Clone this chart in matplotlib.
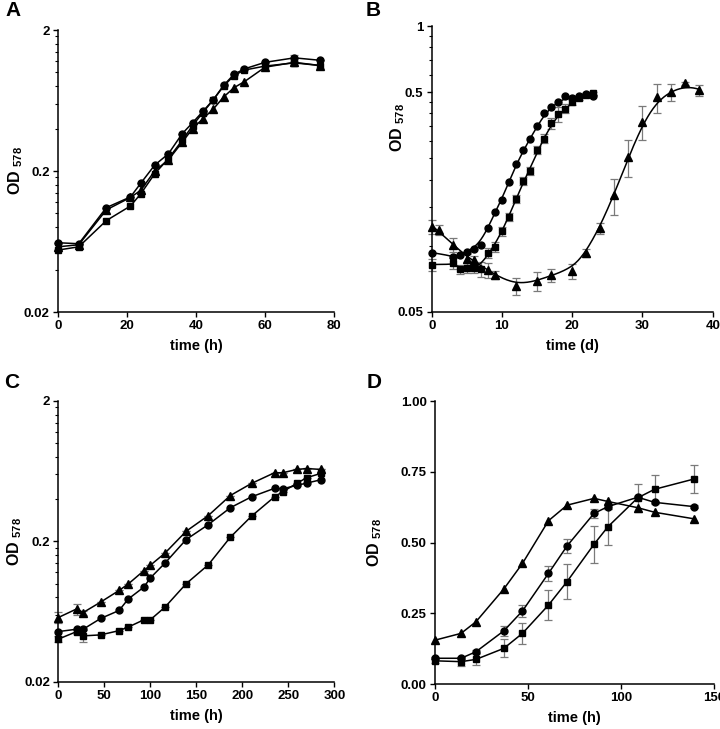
import numpy as np
import matplotlib
matplotlib.use("Agg")
import matplotlib.pyplot as plt
from matplotlib.ticker import FixedLocator, NullFormatter, FixedFormatter

plt.rcParams["font.family"] = ["Liberation Sans", "DejaVu Sans"]
plt.rcParams["font.weight"] = "bold"
plt.rcParams["mathtext.fontset"] = "custom"
plt.rcParams["mathtext.bf"] = "Liberation Sans:bold"
plt.rcParams["mathtext.rm"] = "Liberation Sans:bold"

# --- panel A: OD578 vs time (h), log axis ------------------------------------
A_T = [0, 6, 14, 21, 24, 28, 32, 36, 39, 42, 45, 48, 51, 54, 60, 68.5, 76]
A_CIRC = [0.062, 0.061, 0.110, 0.131, 0.164, 0.220, 0.265, 0.368, 0.440, 0.530,
          0.640, 0.810, 0.970, 1.060, 1.180, 1.270, 1.220]
A_SQ = [0.055, 0.058, 0.089, 0.113, 0.138, 0.191, 0.245, 0.330, 0.420, 0.520,
        0.640, 0.800, 0.950, 1.040, 1.110, 1.170, 1.120]
A_TRI = [0.058, 0.060, 0.106, 0.130, 0.146, 0.200, 0.240, 0.320, 0.400, 0.470,
         0.550, 0.670, 0.780, 0.860, 1.090, 1.180, 1.120]

# --- panel B: OD578 vs time (d), log axis, smooth fitted curves --------------
B_CIRC_T = [0, 3, 4, 5, 6, 7, 8, 9, 10, 11, 12, 13, 14, 15, 16, 17, 18, 19,
            20, 21, 22, 23]
B_CIRC = [0.093, 0.089, 0.091, 0.094, 0.097, 0.101, 0.120, 0.143, 0.161, 0.195,
          0.235, 0.272, 0.305, 0.350, 0.400, 0.430, 0.449, 0.480, 0.470, 0.480,
          0.490, 0.480]
B_SQ_T = [0, 3, 4, 5, 6, 7, 8, 9, 10, 11, 12, 13, 14, 15, 16, 17, 18, 19, 20,
          21, 22, 23]
B_SQ = [0.082, 0.083, 0.078, 0.079, 0.079, 0.078, 0.093, 0.099, 0.116, 0.135,
        0.163, 0.197, 0.219, 0.272, 0.307, 0.360, 0.396, 0.420, 0.450, 0.470,
        0.485, 0.495]
B_SQ_ERR = [0.005, 0.005, 0.004, 0.004, 0.004, 0.006, 0.005, 0.005, 0.005,
            0.006, 0.007, 0.008, 0.010, 0.012, 0.015, 0.020, 0.030, 0.020,
            0.015, 0.010, 0.008, 0.008]
B_TRI_T = [0, 1, 3, 5, 6, 8, 9, 12, 15, 17, 20, 22, 24, 26, 28, 30, 32, 34, 36, 38]
B_TRI = [0.122, 0.118, 0.101, 0.087, 0.086, 0.0774, 0.0735, 0.0655, 0.069,
         0.0735, 0.0766, 0.093, 0.120, 0.170, 0.254, 0.367, 0.473, 0.502,
         0.548, 0.510]
B_TRI_ERR = [0.009, 0.006, 0.007, 0.005, 0.004, 0.006, 0.003, 0.006, 0.007,
             0.005, 0.006, 0.004, 0.007, 0.032, 0.048, 0.065, 0.070, 0.045,
             0.010, 0.030]

# --- panel C: OD578 vs time (h), log axis ------------------------------------
C_T = [0, 20, 27, 46, 66, 76, 93, 100, 116, 139, 163, 187, 210, 235, 244, 259,
       270, 286]
C_TRI = [0.0573, 0.066, 0.0622, 0.0738, 0.0893, 0.0993, 0.1236, 0.135, 0.165,
         0.236, 0.305, 0.424, 0.517, 0.616, 0.616, 0.650, 0.660, 0.650]
C_TRI_ERR = [0.005, 0.006, 0.002, 0, 0, 0, 0, 0, 0, 0, 0, 0, 0, 0, 0, 0, 0.01, 0]
C_CIRC = [0.0455, 0.0473, 0.0473, 0.0564, 0.0643, 0.0776, 0.0944, 0.1096, 0.140,
          0.206, 0.263, 0.347, 0.415, 0.477, 0.474, 0.500, 0.520, 0.550]
C_SQ = [0.0402, 0.0455, 0.0424, 0.0431, 0.0462, 0.049, 0.0552, 0.0552, 0.068,
        0.0998, 0.136, 0.214, 0.302, 0.415, 0.451, 0.517, 0.568, 0.611]
C_SQ_ERR = [0.002, 0.002, 0.004, 0, 0, 0, 0, 0, 0, 0, 0, 0, 0, 0, 0, 0, 0, 0]

# --- panel D: OD578 vs time (h), linear axis ---------------------------------
D_T = [0, 14, 22, 37, 47, 61, 71, 85.5, 93, 109, 118, 139]
D_TRI = [0.155, 0.179, 0.220, 0.336, 0.426, 0.577, 0.632, 0.656, 0.645, 0.623,
         0.607, 0.584]
D_CIRC = [0.091, 0.091, 0.114, 0.188, 0.258, 0.391, 0.488, 0.603, 0.627, 0.660,
          0.642, 0.627]
D_CIRC_ERR = [0.004, 0.004, 0.006, 0.018, 0.022, 0.026, 0.024, 0.016, 0.010,
              0.006, 0.006, 0.006]
D_SQ = [0.082, 0.079, 0.087, 0.126, 0.179, 0.279, 0.362, 0.494, 0.556, 0.658,
        0.688, 0.724]
D_SQ_ERR = [0.008, 0.016, 0.020, 0.032, 0.036, 0.052, 0.062, 0.066, 0.064,
            0.050, 0.049, 0.049]

ERR_KW = dict(ecolor="#7a7a7a", elinewidth=0.9, capsize=3, capthick=0.9)
MK = {"o": 5.0, "s": 5.0, "^": 5.8}


def smooth(t, y, bw, n=300):
    """Local-linear (gaussian weighted) smoother in log space, for the fitted curves."""
    t = np.asarray(t, float)
    ly = np.log10(np.asarray(y, float))
    grid = np.linspace(t.min(), t.max(), n)
    out = []
    for g in grid:
        w = np.exp(-0.5 * ((t - g) / bw) ** 2)
        tm = (w * t).sum() / w.sum()
        ym = (w * ly).sum() / w.sum()
        var = (w * (t - tm) ** 2).sum()
        b = (w * (t - tm) * (ly - ym)).sum() / var if var > 0 else 0.0
        out.append(ym + b * (g - tm))
    return grid, 10 ** np.array(out)


def series(ax, t, y, marker, err=None, line=True):
    if line:
        ax.plot(t, y, "-", color="black", lw=1.1, zorder=3, clip_on=False)
    if err is not None:
        ax.errorbar(t, y, yerr=err, fmt="none", zorder=2, clip_on=False, **ERR_KW)
    ax.plot(t, y, marker, color="black", ms=MK[marker], ls="none", zorder=4,
            clip_on=False)


def style(ax, xticks, xlabel, ylab_x, ylab_y=0.5):
    for s in ("top", "right"):
        ax.spines[s].set_visible(False)
    for s in ("left", "bottom"):
        ax.spines[s].set_linewidth(1.1)
    ax.set_xticks(xticks)
    ax.set_xlim(xticks[0], xticks[-1])
    ax.tick_params(which="major", direction="out", length=3.5, width=1.0,
                   labelsize=9.5, pad=2.5)
    ax.tick_params(which="minor", direction="out", length=2.2, width=0.8)
    ax.tick_params(axis="x", which="minor", length=0)
    for lab in ax.get_xticklabels() + ax.get_yticklabels():
        lab.set_fontweight("bold")
    ax.set_xlabel(xlabel, fontsize=10.5, fontweight="bold", labelpad=5)
    ax.set_ylabel(r"$\mathbf{OD}$ $_{\mathbf{578}}$", fontsize=11.5)
    ax.yaxis.set_label_coords(ylab_x, ylab_y)


def log_axis(ax, lo, hi, majors, minors):
    ax.set_yscale("log")
    ax.set_ylim(lo, hi)
    ax.yaxis.set_major_locator(FixedLocator(majors))
    ax.yaxis.set_major_formatter(FixedFormatter([f"{m:g}" for m in majors]))
    ax.yaxis.set_minor_locator(FixedLocator(minors))
    ax.yaxis.set_minor_formatter(NullFormatter())


W, H = 720, 729
fig = plt.figure(figsize=(W / 100, H / 100), dpi=100)
axA = fig.add_axes([0.0806, 0.572, 0.3833, 0.3868])
axB = fig.add_axes([0.5996, 0.5724, 0.3903, 0.3919])
axC = fig.add_axes([0.0810, 0.0649, 0.3833, 0.3851])
axD = fig.add_axes([0.6042, 0.0617, 0.3875, 0.3882])

minors_02 = [0.02 * k for k in range(2, 10)] + [0.2 * k for k in range(2, 10)]

# A
series(axA, A_T, A_TRI, "^")
series(axA, A_T, A_SQ, "s")
series(axA, A_T, A_CIRC, "o", err=[0] * 15 + [0.06, 0])
log_axis(axA, 0.02, 2, [0.02, 0.2, 2], minors_02)
style(axA, [0, 20, 40, 60, 80], "time (h)", -0.12)

# B
for t, y, m, e, bw in ((B_CIRC_T, B_CIRC, "o", None, 1.1),
                       (B_SQ_T, B_SQ, "s", B_SQ_ERR, 1.1),
                       (B_TRI_T, B_TRI, "^", B_TRI_ERR, 1.9)):
    gx, gy = smooth(t, y, bw)
    axB.plot(gx, gy, "-", color="black", lw=1.1, zorder=3, clip_on=False)
    series(axB, t, y, m, err=e, line=False)
log_axis(axB, 0.05, 1, [0.05, 0.5, 1],
         [0.05 * k for k in range(2, 10)] + [0.6, 0.7, 0.8, 0.9])
style(axB, [0, 10, 20, 30, 40], "time (d)", -0.088, 0.643)

# C
series(axC, C_T, C_TRI, "^", err=C_TRI_ERR)
series(axC, C_T, C_CIRC, "o")
series(axC, C_T, C_SQ, "s", err=C_SQ_ERR)
log_axis(axC, 0.02, 2, [0.02, 0.2, 2], minors_02)
style(axC, [0, 50, 100, 150, 200, 250, 300], "time (h)", -0.124)

# D
series(axD, D_T, D_TRI, "^")
series(axD, D_T, D_CIRC, "o", err=D_CIRC_ERR)
series(axD, D_T, D_SQ, "s", err=D_SQ_ERR)
axD.set_ylim(0, 1.0)
axD.set_yticks([0, 0.25, 0.5, 0.75, 1.0])
axD.set_yticklabels(["0.00", "0.25", "0.50", "0.75", "1.00"])
style(axD, [0, 50, 100, 150], "time (h)", -0.183)

# panel letters, placed in figure pixels
for letter, px, py in (("A", 13, 10), ("B", 373, 10), ("C", 12, 383), ("D", 374, 383)):
    fig.text(px / W, 1 - py / H, letter, fontsize=15, fontweight="bold",
             ha="center", va="center")

fig.savefig("out.png", dpi=100)
